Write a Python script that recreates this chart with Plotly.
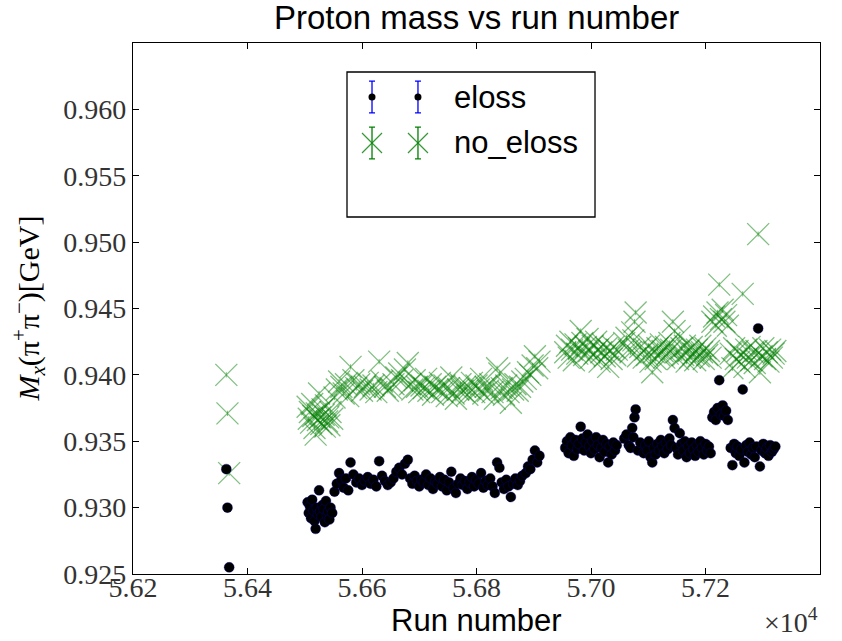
import plotly.graph_objects as go

# Run numbers and reconstructed missing mass M_x(pi+ pi-) per run [GeV]
RUNS = [
    56363, 56365, 56368,
    56505, 56507, 56509, 56511, 56513, 56515, 56517, 56519, 56521, 56523, 56525,
    56527, 56529, 56531, 56533, 56535, 56537, 56539, 56541, 56543, 56545, 56548,
    56552, 56556, 56560, 56564, 56568, 56572, 56576, 56580, 56585, 56590, 56595,
    56600, 56605, 56610, 56615, 56620, 56625, 56630, 56635, 56640, 56645, 56650,
    56655, 56660, 56665, 56670, 56675, 56680,
    56684, 56688, 56692, 56696, 56700, 56704, 56708, 56712, 56716, 56720, 56724,
    56728, 56732, 56736, 56740, 56744, 56748, 56752, 56756, 56760, 56764, 56768,
    56772, 56776, 56780, 56784, 56788, 56792, 56796, 56800, 56804, 56808, 56812,
    56816, 56820, 56824, 56828, 56832, 56836, 56840, 56844, 56848, 56852, 56856,
    56860, 56864, 56868, 56872, 56876, 56880,
    56886, 56890, 56894, 56898, 56902, 56906, 56910,
    56955, 56958, 56961, 56964, 56967, 56970, 56973, 56976, 56979, 56982, 56985,
    56988, 56991, 56994, 56997, 57000, 57003, 57006, 57009, 57012, 57015, 57018,
    57021, 57024, 57027, 57030, 57033, 57036, 57039, 57042, 57045,
    57058, 57062, 57066, 57069, 57072, 57074, 57076, 57078, 57082, 57086,
    57092, 57095, 57098, 57101, 57104, 57107, 57110, 57113, 57116, 57119, 57122,
    57125, 57128, 57131, 57134, 57137, 57140, 57143, 57146, 57149, 57152, 57155,
    57158, 57161, 57164, 57167, 57170, 57173, 57176, 57179, 57182, 57185, 57188,
    57191, 57194, 57197, 57200, 57203, 57206, 57209,
    57212, 57215, 57218, 57221, 57224, 57227, 57230, 57233, 57236, 57239,
    57244, 57247, 57250, 57253, 57256, 57259, 57262, 57265, 57268, 57271, 57274,
    57277, 57280, 57283, 57286, 57289, 57292, 57295, 57298, 57301, 57304, 57307,
    57310, 57313, 57316, 57319, 57322,
]

ELOSS = [
    0.9329, 0.9300, 0.9255,
    0.9304, 0.9296, 0.9301, 0.9292, 0.9306, 0.9298, 0.9290, 0.9284, 0.9300, 0.9295, 0.9313,
    0.9297, 0.9293, 0.9302, 0.9299, 0.9289, 0.9305, 0.9294, 0.9297, 0.9291, 0.9300, 0.9296,
    0.9312, 0.9318, 0.9326, 0.9321, 0.9315, 0.9322, 0.9313, 0.9334, 0.9325, 0.9319, 0.9322,
    0.9317, 0.9320, 0.9323, 0.9318, 0.9321, 0.9316, 0.9335, 0.9324, 0.9320, 0.9317, 0.9319,
    0.9322, 0.9327, 0.9330, 0.9325, 0.9333, 0.9336,
    0.9322, 0.9318, 0.9324, 0.9320, 0.9316, 0.9321, 0.9319, 0.9325, 0.9317, 0.9322, 0.9314,
    0.9320, 0.9318, 0.9323, 0.9316, 0.9321, 0.9313, 0.9319, 0.9327, 0.9315, 0.9311, 0.9318,
    0.9322, 0.9317, 0.9320, 0.9314, 0.9319, 0.9323, 0.9316, 0.9321, 0.9318, 0.9326, 0.9315,
    0.9320, 0.9317, 0.9322, 0.9316, 0.9311, 0.9334, 0.9330, 0.9319, 0.9314, 0.9321, 0.9316,
    0.9308, 0.9318, 0.9322, 0.9317, 0.9320, 0.9324,
    0.9326, 0.9331, 0.9329, 0.9336, 0.9343, 0.9334, 0.9339,
    0.9345, 0.9350, 0.9341, 0.9353, 0.9347, 0.9339, 0.9351, 0.9344, 0.9348, 0.9361, 0.9352,
    0.9343, 0.9349, 0.9355, 0.9346, 0.9341, 0.9350, 0.9344, 0.9353, 0.9347, 0.9338, 0.9345,
    0.9351, 0.9342, 0.9348, 0.9334, 0.9346, 0.9340, 0.9349, 0.9343, 0.9347,
    0.9352, 0.9355, 0.9347, 0.9345, 0.9360, 0.9353, 0.9368, 0.9374, 0.9343, 0.9349,
    0.9341, 0.9347, 0.9343, 0.9350, 0.9338, 0.9334, 0.9345, 0.9340, 0.9348, 0.9343, 0.9351,
    0.9346, 0.9341, 0.9349, 0.9344, 0.9352, 0.9347, 0.9366, 0.9360, 0.9345, 0.9340, 0.9356,
    0.9348, 0.9343, 0.9350, 0.9338, 0.9346, 0.9341, 0.9349, 0.9344, 0.9339, 0.9347, 0.9342,
    0.9350, 0.9345, 0.9340, 0.9348, 0.9343, 0.9346, 0.9341,
    0.9368, 0.9372, 0.9366, 0.9375, 0.9396, 0.9370, 0.9377, 0.9369, 0.9373, 0.9366,
    0.9345, 0.9332, 0.9348, 0.9341, 0.9346, 0.9339, 0.9344, 0.9389, 0.9334, 0.9347, 0.9342,
    0.9349, 0.9340, 0.9345, 0.9338, 0.9346, 0.9435, 0.9331, 0.9343, 0.9348, 0.9341, 0.9345,
    0.9339, 0.9347, 0.9342, 0.9344, 0.9346,
]

NO_ELOSS = [
    0.9400, 0.9371, 0.9326,
    0.9376, 0.9367, 0.9372, 0.9364, 0.9378, 0.9369, 0.9360, 0.9355, 0.9371, 0.9366, 0.9386,
    0.9368, 0.9363, 0.9374, 0.9370, 0.9361, 0.9377, 0.9365, 0.9368, 0.9362, 0.9372, 0.9367,
    0.9383, 0.9389, 0.9395, 0.9391, 0.9386, 0.9393, 0.9384, 0.9406, 0.9396, 0.9390, 0.9393,
    0.9388, 0.9391, 0.9394, 0.9389, 0.9392, 0.9387, 0.9410, 0.9395, 0.9391, 0.9388, 0.9390,
    0.9393, 0.9398, 0.9401, 0.9396, 0.9404, 0.9409,
    0.9393, 0.9389, 0.9396, 0.9391, 0.9387, 0.9392, 0.9390, 0.9397, 0.9388, 0.9393, 0.9385,
    0.9391, 0.9389, 0.9394, 0.9387, 0.9392, 0.9384, 0.9390, 0.9398, 0.9386, 0.9382, 0.9389,
    0.9393, 0.9388, 0.9391, 0.9385, 0.9390, 0.9394, 0.9387, 0.9392, 0.9389, 0.9397, 0.9386,
    0.9391, 0.9388, 0.9393, 0.9387, 0.9382, 0.9405, 0.9401, 0.9390, 0.9385, 0.9392, 0.9387,
    0.9379, 0.9389, 0.9393, 0.9388, 0.9391, 0.9395,
    0.9397, 0.9402, 0.9400, 0.9407, 0.9414, 0.9405, 0.9410,
    0.9417, 0.9422, 0.9413, 0.9425, 0.9419, 0.9411, 0.9423, 0.9416, 0.9420, 0.9433, 0.9424,
    0.9415, 0.9421, 0.9427, 0.9418, 0.9413, 0.9422, 0.9416, 0.9425, 0.9419, 0.9410, 0.9417,
    0.9423, 0.9414, 0.9420, 0.9406, 0.9418, 0.9412, 0.9421, 0.9415, 0.9419,
    0.9424, 0.9428, 0.9419, 0.9417, 0.9432, 0.9426, 0.9440, 0.9447, 0.9414, 0.9421,
    0.9413, 0.9419, 0.9415, 0.9422, 0.9410, 0.9402, 0.9417, 0.9412, 0.9420, 0.9415, 0.9423,
    0.9418, 0.9413, 0.9421, 0.9416, 0.9424, 0.9419, 0.9440, 0.9433, 0.9417, 0.9412, 0.9429,
    0.9420, 0.9415, 0.9422, 0.9410, 0.9418, 0.9413, 0.9421, 0.9416, 0.9411, 0.9419, 0.9414,
    0.9422, 0.9417, 0.9412, 0.9420, 0.9415, 0.9418, 0.9413,
    0.9440, 0.9444, 0.9437, 0.9447, 0.9468, 0.9442, 0.9449, 0.9440, 0.9445, 0.9437,
    0.9416, 0.9405, 0.9420, 0.9412, 0.9418, 0.9410, 0.9415, 0.9461, 0.9406, 0.9419, 0.9413,
    0.9421, 0.9411, 0.9417, 0.9409, 0.9418, 0.9506, 0.9402, 0.9414, 0.9420, 0.9412, 0.9417,
    0.9410, 0.9419, 0.9413, 0.9416, 0.9418,
]

# Statistical uncertainty on each fitted mass [GeV]
ELOSS_ERR = 0.0002
NO_ELOSS_ERR = 0.0002

X_TICKS = [56200, 56400, 56600, 56800, 57000, 57200, 57400]
X_TICK_TEXT = ["5.62", "5.64", "5.66", "5.68", "5.70", "5.72", "5.74"]
Y_TICKS = [0.925, 0.930, 0.935, 0.940, 0.945, 0.950, 0.955, 0.960]
Y_TICK_TEXT = ["0.925", "0.930", "0.935", "0.940", "0.945", "0.950", "0.955", "0.960"]

SERIES_NAMES = ["eloss", "no_eloss"]

GREEN = "rgb(0,128,0)"
GREEN_A = "rgba(0,128,0,0.5)"
BLUE = "rgb(0,0,255)"
SERIF = "Liberation Serif, DejaVu Serif, serif"
SANS = "Liberation Sans, Arial, sans-serif"

W, H = 842, 641
ML, MR, MT, MB = 133, 22, 43, 67
PLOT_H = H - MT - MB

fig = go.Figure()

fig.add_trace(go.Scatter(
    x=RUNS, y=NO_ELOSS, mode="markers", name=SERIES_NAMES[1],
    marker=dict(symbol="x-thin", size=22, color=GREEN_A,
                line=dict(color=GREEN_A, width=1.3)),
    error_y=dict(type="constant", value=NO_ELOSS_ERR, color=GREEN_A,
                 thickness=1, width=0),
    showlegend=False,
))
fig.add_trace(go.Scatter(
    x=RUNS, y=ELOSS, mode="markers", name=SERIES_NAMES[0],
    marker=dict(symbol="circle", size=10, color="black",
                line=dict(color="rgba(0,0,160,0.6)", width=0.6)),
    error_y=dict(type="constant", value=ELOSS_ERR, color=BLUE,
                 thickness=1, width=0),
    showlegend=False,
))

# Legend box drawn on an overlay axis spanning the plot area (0..1 in both directions)
LEG_BOX = dict(x0=0.3115, x1=0.6725, y0=0.6723, y1=0.9454)
LEG_SYM_X = [0.3479, 0.4148]
LEG_ROW_Y = [0.8983, 0.8117]
LEG_TEXT_X = 0.465
LEG_BAR = 0.030

fig.add_shape(type="rect", xref="x2", yref="y2", **LEG_BOX,
              line=dict(color="black", width=1.3), fillcolor="white", layer="below")

fig.add_trace(go.Scatter(
    x=LEG_SYM_X, y=[LEG_ROW_Y[0]] * 2, xaxis="x2", yaxis="y2", mode="markers",
    marker=dict(symbol="circle", size=7, color="black"),
    error_y=dict(type="constant", value=LEG_BAR, color=BLUE, thickness=1.3, width=3),
    showlegend=False, hoverinfo="skip",
))
fig.add_trace(go.Scatter(
    x=LEG_SYM_X, y=[LEG_ROW_Y[1]] * 2, xaxis="x2", yaxis="y2", mode="markers",
    marker=dict(symbol="x-thin", size=20, color=GREEN,
                line=dict(color="rgba(0,128,0,0.8)", width=1.2)),
    error_y=dict(type="constant", value=LEG_BAR, color=GREEN, thickness=1.3, width=3),
    showlegend=False, hoverinfo="skip",
))
for name, yy in zip(SERIES_NAMES, LEG_ROW_Y):
    fig.add_annotation(x=LEG_TEXT_X, y=yy, xref="x2", yref="y2", text=name,
                       showarrow=False, xanchor="left", yanchor="middle",
                       font=dict(family=SANS, size=31, color="black"))

axis_common = dict(showline=True, linecolor="black", linewidth=1.3, mirror="allticks",
                   ticks="inside", ticklen=6, tickcolor="black", tickwidth=1,
                   showgrid=False, zeroline=False)

fig.update_layout(
    width=W, height=H,
    margin=dict(l=ML, r=MR, t=MT, b=MB, pad=0),
    paper_bgcolor="white", plot_bgcolor="white",
    title=dict(text="Proton mass vs run number", x=0.566, xanchor="center",
               y=1 - 17 / H, yanchor="middle", yref="container",
               font=dict(family=SANS, size=33, color="black")),
    xaxis=dict(range=[56200, 57400], tickvals=X_TICKS, ticktext=X_TICK_TEXT,
               ticklabelstandoff=-12,
               tickfont=dict(family=SERIF, size=28, color="#333"), **axis_common),
    yaxis=dict(range=[0.925, 0.965], tickvals=Y_TICKS, ticktext=Y_TICK_TEXT,
               tickfont=dict(family=SERIF, size=28, color="#333"), **axis_common),
    xaxis2=dict(range=[0, 1], overlaying="x", visible=False, domain=[0, 1]),
    yaxis2=dict(range=[0, 1], overlaying="y", visible=False, domain=[0, 1]),
    showlegend=False,
)

# Axis titles and the x-axis scale factor
fig.add_annotation(x=0.5, y=-46 / PLOT_H, xref="paper", yref="paper", text="Run number",
                   showarrow=False, xanchor="center", yanchor="middle",
                   font=dict(family=SANS, size=31, color="black"))
fig.add_annotation(x=1.0, y=-46 / PLOT_H, xref="paper", yref="paper",
                   text="×10<sup>4</sup>", showarrow=False, xanchor="right", yanchor="middle",
                   font=dict(family=SERIF, size=28, color="#333"))
fig.add_annotation(x=-104 / (W - ML - MR), y=0.5, xref="paper", yref="paper",
                   xanchor="center", yanchor="middle",
                   text="<i>M</i><sub><i>x</i></sub>(π<sup>+</sup>π<sup>−</sup>)[GeV]",
                   showarrow=False, textangle=-90,
                   font=dict(family=SERIF, size=30, color="black"))

fig.write_html("out.html")
